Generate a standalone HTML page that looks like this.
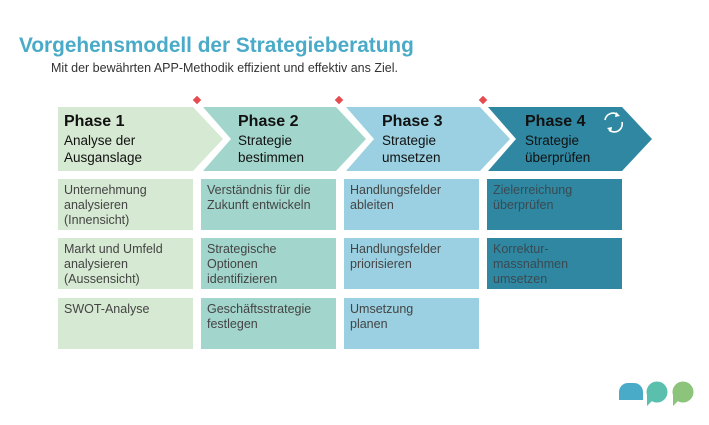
<!DOCTYPE html>
<html><head><meta charset="utf-8"><style>
body{margin:0;width:709px;height:425px;background:#fff;position:relative;overflow:hidden;font-family:"Liberation Sans",Arial,sans-serif}
.t{position:absolute;white-space:nowrap}
.box{position:absolute;width:135px;height:51px;box-sizing:border-box;padding:4px 6px;font-size:12.5px;line-height:15px;color:#444}
.ph{position:absolute;font-size:13.5px;line-height:17px;color:#111}
.ph b{font-size:16px;display:block;line-height:20px}
</style></head><body>
<div class="t" style="left:19px;top:34px;font-size:20.8px;font-weight:bold;color:#4aabc8">Vorgehensmodell der Strategieberatung</div>
<div class="t" style="left:51px;top:61px;font-size:12.5px;color:#333">Mit der bewährten APP-Methodik effizient und effektiv ans Ziel.</div>
<svg style="position:absolute;left:0;top:0" width="709" height="425">
<polygon points="58,107 193,107 223,139 193,171 58,171" fill="#d6e9d2"/>
<polygon points="203,107 336,107 366,139 336,171 203,171 231,139" fill="#a2d5cc"/>
<polygon points="346,107 480,107 510,139 480,171 346,171 374,139" fill="#9ad0e1"/>
<polygon points="488,107 622,107 652,139 622,171 488,171 516,139" fill="#2f87a1"/>
<g fill="#e64b50">
<rect x="194" y="97" width="6" height="6" transform="rotate(45 197 100)"/>
<rect x="336" y="97" width="6" height="6" transform="rotate(45 339 100)"/>
<rect x="480" y="97" width="6" height="6" transform="rotate(45 483 100)"/>
</g>
<g fill="none" stroke="#fff" stroke-width="1.6">
<path d="M605,120 A8,8 0 0 1 618,115"/><path d="M622,122 A8,8 0 0 1 609,130"/>
</g>
<polygon points="616,112 620,116 615,117" fill="#fff"/>
<polygon points="611,132 607,128 612,127" fill="#fff"/>
<path d="M619,400 v-8 a9,9 0 0 1 9,-9 h6 a9,9 0 0 1 9,9 v8 z" fill="#4aabc8"/>
<circle cx="657" cy="392" r="10.5" fill="#5bbfae"/>
<polygon points="647,393 652,401 647,406" fill="#5bbfae"/>
<circle cx="683" cy="392" r="10.5" fill="#8cc47c"/>
<polygon points="673,393 678,401 673,406" fill="#8cc47c"/>
</svg>
<div class="ph" style="left:64px;top:112px"><b>Phase 1</b>Analyse der<br>Ausganslage</div>
<div class="ph" style="left:238px;top:112px"><b>Phase 2</b>Strategie<br>bestimmen</div>
<div class="ph" style="left:382px;top:112px"><b>Phase 3</b>Strategie<br>umsetzen</div>
<div class="ph" style="left:525px;top:112px"><b>Phase 4</b>Strategie<br>überprüfen</div>

<div class="box" style="left:58px;top:179px;background:#d6e9d2">Unternehmung<br>analysieren<br>(Innensicht)</div>
<div class="box" style="left:58px;top:238px;background:#d6e9d2">Markt und Umfeld<br>analysieren<br>(Aussensicht)</div>
<div class="box" style="left:58px;top:298px;background:#d6e9d2">SWOT-Analyse</div>
<div class="box" style="left:201px;top:179px;background:#a2d5cc">Verständnis für die<br>Zukunft entwickeln</div>
<div class="box" style="left:201px;top:238px;background:#a2d5cc">Strategische<br>Optionen<br>identifizieren</div>
<div class="box" style="left:201px;top:298px;background:#a2d5cc">Geschäftsstrategie<br>festlegen</div>
<div class="box" style="left:344px;top:179px;background:#9ad0e1">Handlungsfelder<br>ableiten</div>
<div class="box" style="left:344px;top:238px;background:#9ad0e1">Handlungsfelder<br>priorisieren</div>
<div class="box" style="left:344px;top:298px;background:#9ad0e1">Umsetzung<br>planen</div>
<div class="box" style="left:487px;top:179px;background:#2f87a1;color:#3a4a52">Zielerreichung<br>überprüfen</div>
<div class="box" style="left:487px;top:238px;background:#2f87a1;color:#3a4a52">Korrektur-<br>massnahmen<br>umsetzen</div>
</body></html>
